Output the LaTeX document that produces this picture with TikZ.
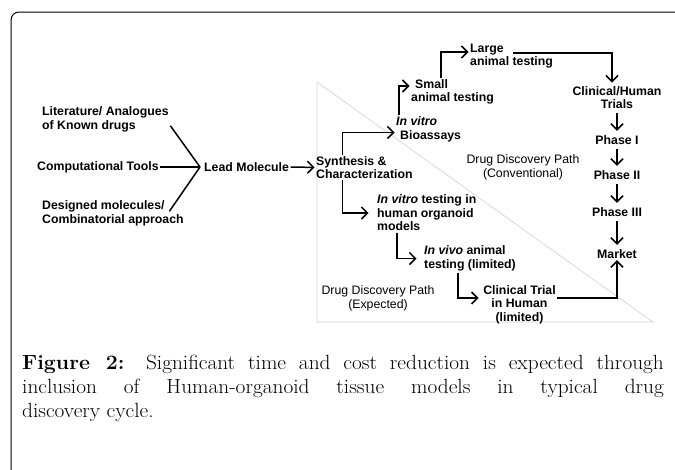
\documentclass[tikz,border=0pt]{standalone}
\usepackage{fontspec}
\setsansfont{Liberation Sans}
\usetikzlibrary{positioning,calc,arrows.meta}

\begin{document}
\begin{tikzpicture}[x=1pt,y=-1pt,
    lbl/.style={font=\sffamily\bfseries\fontsize{12.3}{13.5}\selectfont, inner sep=1.5pt, align=left},
    txt/.style={font=\sffamily\fontsize{12.3}{13.5}\selectfont, inner sep=1.5pt, align=center},
    arr/.style={line width=1.5pt, -{Straight Barb[length=6pt,width=12pt]}},
    feed/.style={line width=1.5pt},
    down/.style={arr, shorten <=3pt, shorten >=3pt}]
    \useasboundingbox (0,0) rectangle (675,469);
    \clip (0,0) rectangle (675,469);

    % Frame and background triangle
    \draw[line width=1pt, rounded corners=8pt] (11,12) rectangle (700,500);
    \draw[black!18, line width=0.6pt] (317,82) -- (317,322) -- (653,322) -- cycle;

    % Sources
    \node[lbl, anchor=west] (lit) at (40.5,119.5) {Literature/ Analogues\\of Known drugs};
    \node[lbl, anchor=west] (comp) at (35.5,167) {Computational Tools};
    \node[lbl, anchor=west] (des) at (40.5,213.5) {Designed molecules/\\Combinatorial approach};
    \coordinate (hub) at (200,167);
    \node[lbl, anchor=west] (lead) at (202.5,167) {Lead Molecule};
    \draw[feed] ([yshift=8pt]lit.south east) -- (hub);
    \draw[feed] (comp.east) -- (hub);
    \draw[feed] ([xshift=-16pt,yshift=-12pt]des.north east) -- (hub);

    % Conventional path
    \node[lbl, anchor=west] (syn) at (314.5,167.5) {Synthesis \&\\Characterization};
    \node[lbl, anchor=west] (vitro) at (394.5,129.5) {\textit{In vitro}\\\hspace*{4pt}Bioassays};
    \node[lbl, anchor=west] (small) at (409.5,92) {\hspace*{4pt}Small\\animal testing};
    \node[lbl, anchor=west] (large) at (468.5,56) {Large\\animal testing};
    \node[lbl, align=center] (clin) at (617,97.5) {Clinical/Human\\Trials};
    \node[lbl] (ph1) at (617,140) {Phase I};
    \node[lbl] (ph2) at (617,175) {Phase II};
    \node[lbl] (ph3) at (617,212) {Phase III};
    \node[lbl] (market) at (617,254) {Market};
    \node[txt] (conv) at (523,167.5) {Drug Discovery Path\\(Conventional)};

    \draw[arr] (lead) -- (syn);
    \draw[arr] ([xshift=28pt]syn.north west) |- ([yshift=-3pt]vitro.west);
    \draw[arr] ([xshift=4.5pt]vitro.north west) |- ([yshift=6pt]small.west);
    \draw[arr] ([xshift=31.5pt]small.north west) |- ([yshift=4pt]large.west);
    \draw[arr, shorten >=2pt] ([xshift=44.5pt,yshift=3pt]large.west) -| ([xshift=-5pt]clin.north);
    \draw[down] (clin) -- (ph1);
    \draw[down] (ph1) -- (ph2);
    \draw[down] (ph2) -- (ph3);
    \draw[down] (ph3) -- (market);

    % Expected path
    \node[lbl, anchor=west] (org) at (375.5,213) {\textit{In vitro} testing in\\human organoid\\models};
    \node[lbl, anchor=west] (vivo) at (422.5,258.5) {\textit{In vivo} animal\\testing (limited)};
    \node[lbl, align=center] (trial) at (519.5,304.5) {Clinical Trial\\in Human\\(limited)};
    \node[txt] (expd) at (378,298.5) {Drug Discovery Path\\(Expected)};

    \draw[arr] ([xshift=28pt]syn.south west) |- ([xshift=-7pt]org.west);
    \draw[arr] ([xshift=21.5pt]org.south west) |- ([xshift=-6pt]vivo.west);
    \draw[arr] ([xshift=35.5pt]vivo.south west) |- ([xshift=-3pt,yshift=6.5pt]trial.west);
    \draw[arr] ([yshift=6.5pt]trial.east) -| (market.south);

    % Caption
    \node[anchor=north west, text width=617pt, align=justify, inner sep=0pt,
          xscale=1.04, transform shape,
          font=\fontsize{20.5}{24}\selectfont] (cap) at (22,355)
        {\textbf{Figure 2:} Significant time and cost reduction is expected through\linebreak
         inclusion of Human-organoid tissue models in typical drug\linebreak
         discovery cycle.};
\end{tikzpicture}
\end{document}
